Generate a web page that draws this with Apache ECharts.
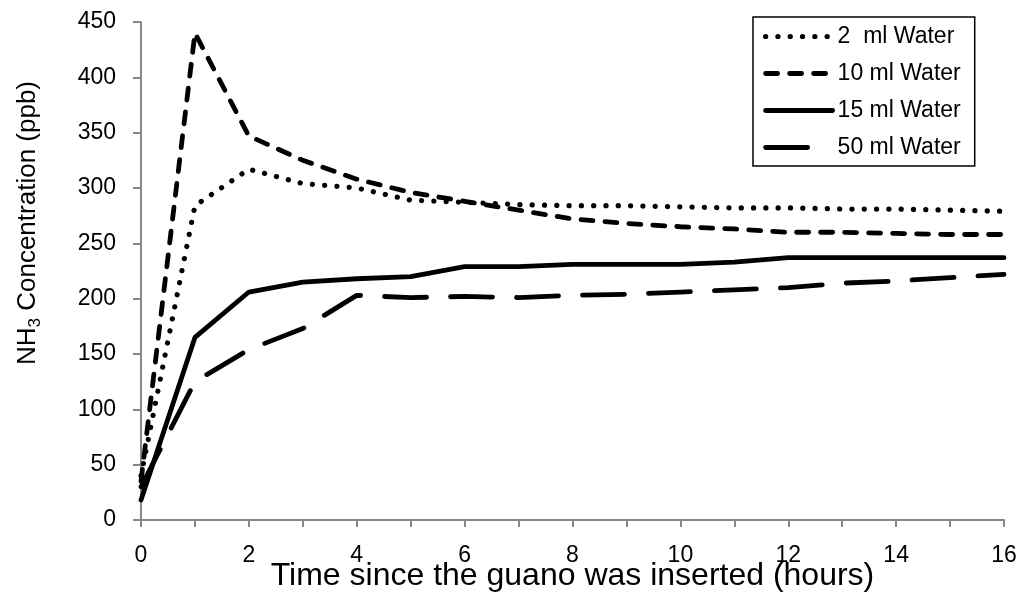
<!DOCTYPE html>
<html>
<head>
<meta charset="utf-8">
<script src="https://cdn.jsdelivr.net/npm/echarts@6/dist/echarts.min.js"></script>
<style>
html,body{margin:0;padding:0;background:#fff;}
#chart{width:1025px;height:594px;}
</style>
</head>
<body>
<div id="chart"></div>
<script>
var hours = [0,1,2,3,4,5,6,7,8,9,10,11,12,13,14,15,16];
var water2  = [40, 284, 317, 304, 300, 289, 287, 285, 284, 284, 283, 282, 282, 281, 281, 280, 279];
var water10 = [35, 440, 347, 325, 308, 296, 288, 280, 272, 268, 265, 263, 260, 260, 259, 258, 258];
var water15 = [18, 165, 206, 215, 218, 220, 229, 229, 231, 231, 231, 233, 237, 237, 237, 237, 237];
var water50 = [30, 125, 154, 173, 203, 201, 202, 201, 203, 204, 206, 208, 210, 214, 216, 219, 222];
var seriesNames = ['2  ml Water', '10 ml Water', '15 ml Water', '50 ml Water'];

function pairs(vals){ return hours.map(function(h,i){ return [h, vals[i]]; }); }

var FONT = 'Liberation Sans, Arial, sans-serif';
var lw = 4.8;
var styles = [
  {color:'#000', width:5.2, type:[0.1,12.2], cap:'round'},
  {color:'#000', width:lw, type:[12,12], cap:'round'},
  {color:'#000', width:lw, type:'solid', cap:'round'},
  {color:'#000', width:lw, type:[42,24], cap:'round'}
];
var legendStyles = [styles[0], styles[1], styles[2],
  {color:'#000', width:lw, type:[42,40], cap:'round'}];
var chart = echarts.init(document.getElementById('chart'), null, {renderer:'canvas'});
chart.setOption({
  animation:false,
  backgroundColor:'#fff',
  grid:{left:141, right:21, top:22, bottom:74, containLabel:false, outerBoundsMode:'none'},
  legend:{
    orient:'vertical', left:753, top:17,
    padding:[8,14,7,10],
    borderColor:'#000', borderWidth:1.5,
    itemWidth:67, itemHeight:14, itemGap:14, itemTextGap:16,
    textStyle:{fontFamily:FONT, fontSize:23, lineHeight:22, color:'#000'},
    data:seriesNames.map(function(n,i){
      return {name:n, itemStyle:{opacity:0}, lineStyle:legendStyles[i]};
    })
  },
  xAxis:{
    type:'value', min:0, max:16, interval:1,
    name:'Time since the guano was inserted (hours)',
    nameLocation:'middle', nameGap:40, nameMoveOverlap:false,
    nameTextStyle:{fontFamily:FONT, fontSize:32, color:'#000'},
    axisLine:{lineStyle:{color:'#888', width:2}},
    axisTick:{show:true, length:7, lineStyle:{color:'#888', width:2}},
    axisLabel:{fontFamily:FONT, fontSize:23, color:'#000', margin:24,
      formatter:function(v){ return v % 2 === 0 ? String(v) : ''; }},
    splitLine:{show:false}
  },
  yAxis:{
    type:'value', min:0, max:450, interval:50,
    name:'{a|NH}{b|3}{a| Concentration (ppb)}',
    nameLocation:'middle', nameGap:97, nameMoveOverlap:false,
    nameTextStyle:{
      padding:[0,0,0,96],
      rich:{
        a:{fontFamily:FONT, fontSize:26, lineHeight:32, color:'#000'},
        b:{fontFamily:FONT, fontSize:17, lineHeight:32, color:'#000', verticalAlign:'bottom'}
      }
    },
    axisLine:{show:true, lineStyle:{color:'#888', width:2}},
    axisTick:{show:true, length:8, lineStyle:{color:'#888', width:2}},
    axisLabel:{fontFamily:FONT, fontSize:23, color:'#000', margin:25},
    splitLine:{show:false}
  },
  series:[
    {name:seriesNames[0], type:'line', data:pairs(water2), symbol:'none', lineStyle:styles[0], itemStyle:{color:'#000'}},
    {name:seriesNames[1], type:'line', data:pairs(water10), symbol:'none', lineStyle:styles[1], itemStyle:{color:'#000'}},
    {name:seriesNames[2], type:'line', data:pairs(water15), symbol:'none', lineStyle:styles[2], itemStyle:{color:'#000'}},
    {name:seriesNames[3], type:'line', data:pairs(water50), symbol:'none', lineStyle:styles[3], itemStyle:{color:'#000'}}
  ]
});
</script>
</body>
</html>
